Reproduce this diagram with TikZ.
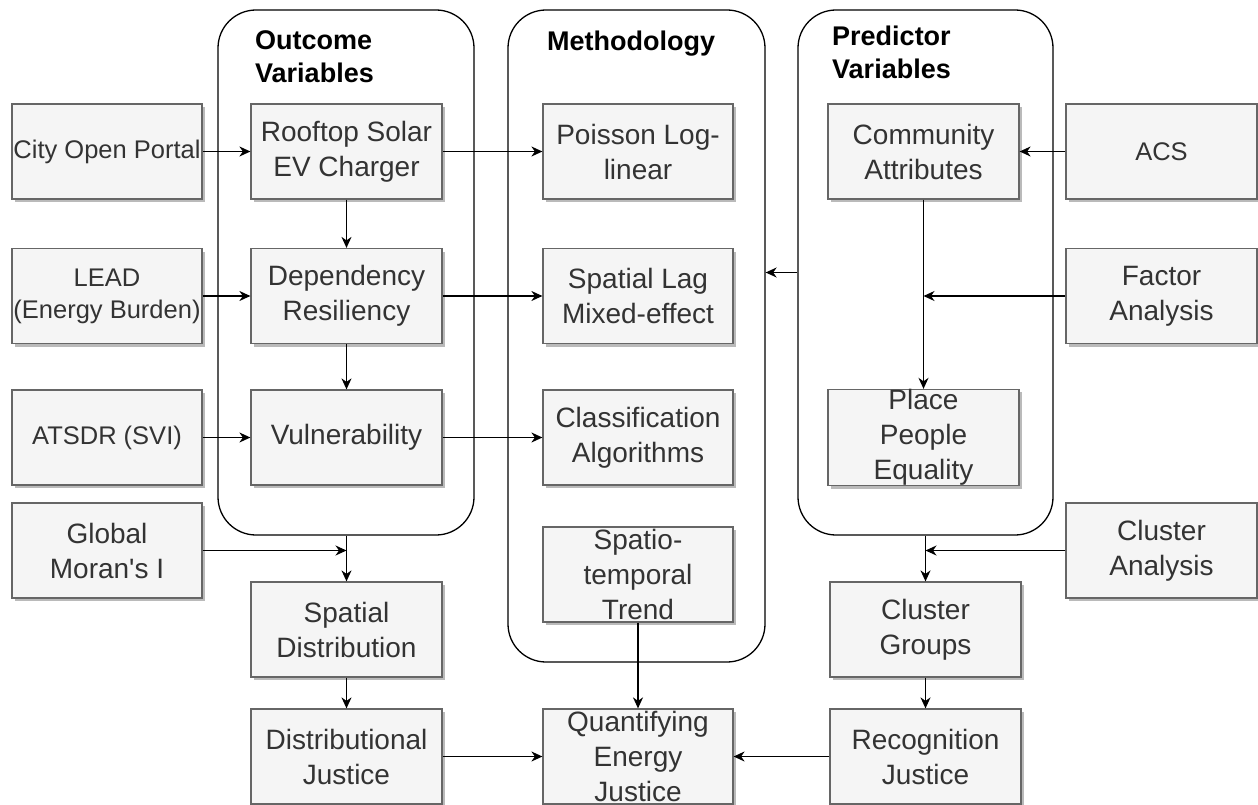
\documentclass[tikz,border=0pt]{standalone}
\usepackage{fontspec}
\setmainfont{Liberation Sans}[Ligatures=TeXOff]
\usetikzlibrary{arrows.meta,shadows}
\definecolor{boxfill}{HTML}{F5F5F5}
\definecolor{boxline}{HTML}{666666}
\definecolor{boxtext}{HTML}{333333}
\tikzset{
  pbox/.style={draw=boxline, fill=boxfill, line width=1.2pt, minimum width=191pt, minimum height=95pt,
    inner sep=0pt, align=center, text=boxtext, font=\fontsize{28}{35}\selectfont,
    drop shadow={shadow xshift=3pt, shadow yshift=-3pt, fill=black!45, opacity=0.6}},
  sbox/.style={pbox, font=\fontsize{25.5}{32}\selectfont},
  cont/.style={draw=black, line width=1.3pt, rounded corners=38pt, inner sep=0pt},
  ttl/.style={anchor=north west, inner sep=0pt, align=left, font=\fontsize{27}{33}\selectfont\bfseries},
  arr/.style={-{Stealth[length=11pt,width=10pt,inset=3.5pt]}, line width=1.4pt, black},
}
\begin{document}
\begin{tikzpicture}[x=1pt,y=-1pt]
\useasboundingbox (0,0) rectangle (1258,805);
% containers
\node[cont, minimum width=256pt, minimum height=525pt] (outC) at (346,272.5) {};
\node[cont, minimum width=257pt, minimum height=652pt] (methC) at (636.5,336) {};
\node[cont, minimum width=255pt, minimum height=525pt] (predC) at (925.5,272.5) {};
\node[ttl] (outT) at (255,30) {Outcome\\Variables};
\node[ttl] (methT) at (547,31) {Methodology};
\node[ttl] (predT) at (832,26) {Predictor\\Variables};
% left sources
\node[sbox, minimum width=190pt] (city) at (107,151.5) {City Open Portal};
\node[sbox, minimum width=190pt] (lead) at (107,296) {LEAD\\(Energy Burden)};
\node[sbox, minimum width=190pt] (atsdr) at (107,437.5) {ATSDR (SVI)};
\node[pbox, minimum width=190pt] (moran) at (107,550.5) {Global\\Moran's I};
% outcome
\node[pbox] (roof) at (346.5,151.5) {Rooftop Solar\\EV Charger};
\node[pbox] (dep) at (346.5,296) {Dependency\\Resiliency};
\node[pbox] (vul) at (346.5,437.5) {Vulnerability};
\node[pbox] (sdist) at (346.5,629.5) {Spatial\\Distribution};
\node[pbox] (djust) at (346.5,756.5) {Distributional\\Justice};
% methodology
\node[pbox, minimum width=190pt] (pois) at (638,151.5) {Poisson Log-\\linear};
\node[pbox, minimum width=190pt] (slag) at (638,296) {Spatial Lag\\Mixed-effect};
\node[pbox, minimum width=190pt] (class) at (638,437.5) {Classification\\Algorithms};
\node[pbox, minimum width=190pt] (stemp) at (638,574.5) {Spatio-\\temporal\\Trend};
\node[pbox, minimum width=190pt] (qej) at (638,756.5) {Quantifying\\Energy\\Justice};
% predictor
\node[pbox] (comm) at (923.5,151.5) {Community\\Attributes};
\node[pbox] (place) at (923.5,437.5) {Place\\People\\Equality};
\node[pbox] (cgroup) at (925.5,629.5) {Cluster\\Groups};
\node[pbox] (rjust) at (925.5,756.5) {Recognition\\Justice};
% right sources
\node[sbox] (acs) at (1161.5,151.5) {ACS};
\node[pbox] (factor) at (1161.5,296) {Factor\\Analysis};
\node[pbox] (cana) at (1161.5,550.5) {Cluster\\Analysis};
% connectors
\draw[arr] (city) -- (roof);
\draw[arr] (roof) -- (pois);
\draw[arr] (roof) -- (dep);
\draw[arr] (lead) -- (dep);
\draw[arr] (dep) -- (slag);
\draw[arr] (dep) -- (vul);
\draw[arr] (atsdr) -- (vul);
\draw[arr] (vul) -- (class);
\draw[arr] (predC.west) -- (predC.west -| methC.east);
\draw[arr] (acs) -- (comm);
\draw[arr] (comm) -- (place);
\draw[arr] (factor.west) -- (factor.west -| comm.south);
\draw[arr] (sdist.north |- outC.south) -- (sdist.north);
\draw[arr] (moran.east) -- (moran.east -| sdist.north);
\draw[arr] (cgroup.north |- predC.south) -- (cgroup.north);
\draw[arr] (cana.west) -- (cana.west -| cgroup.north);
\draw[arr] (sdist) -- (djust);
\draw[arr] (cgroup) -- (rjust);
\draw[arr] (stemp) -- (qej);
\draw[arr] (djust) -- (qej);
\draw[arr] (rjust) -- (qej);
\end{tikzpicture}
\end{document}
